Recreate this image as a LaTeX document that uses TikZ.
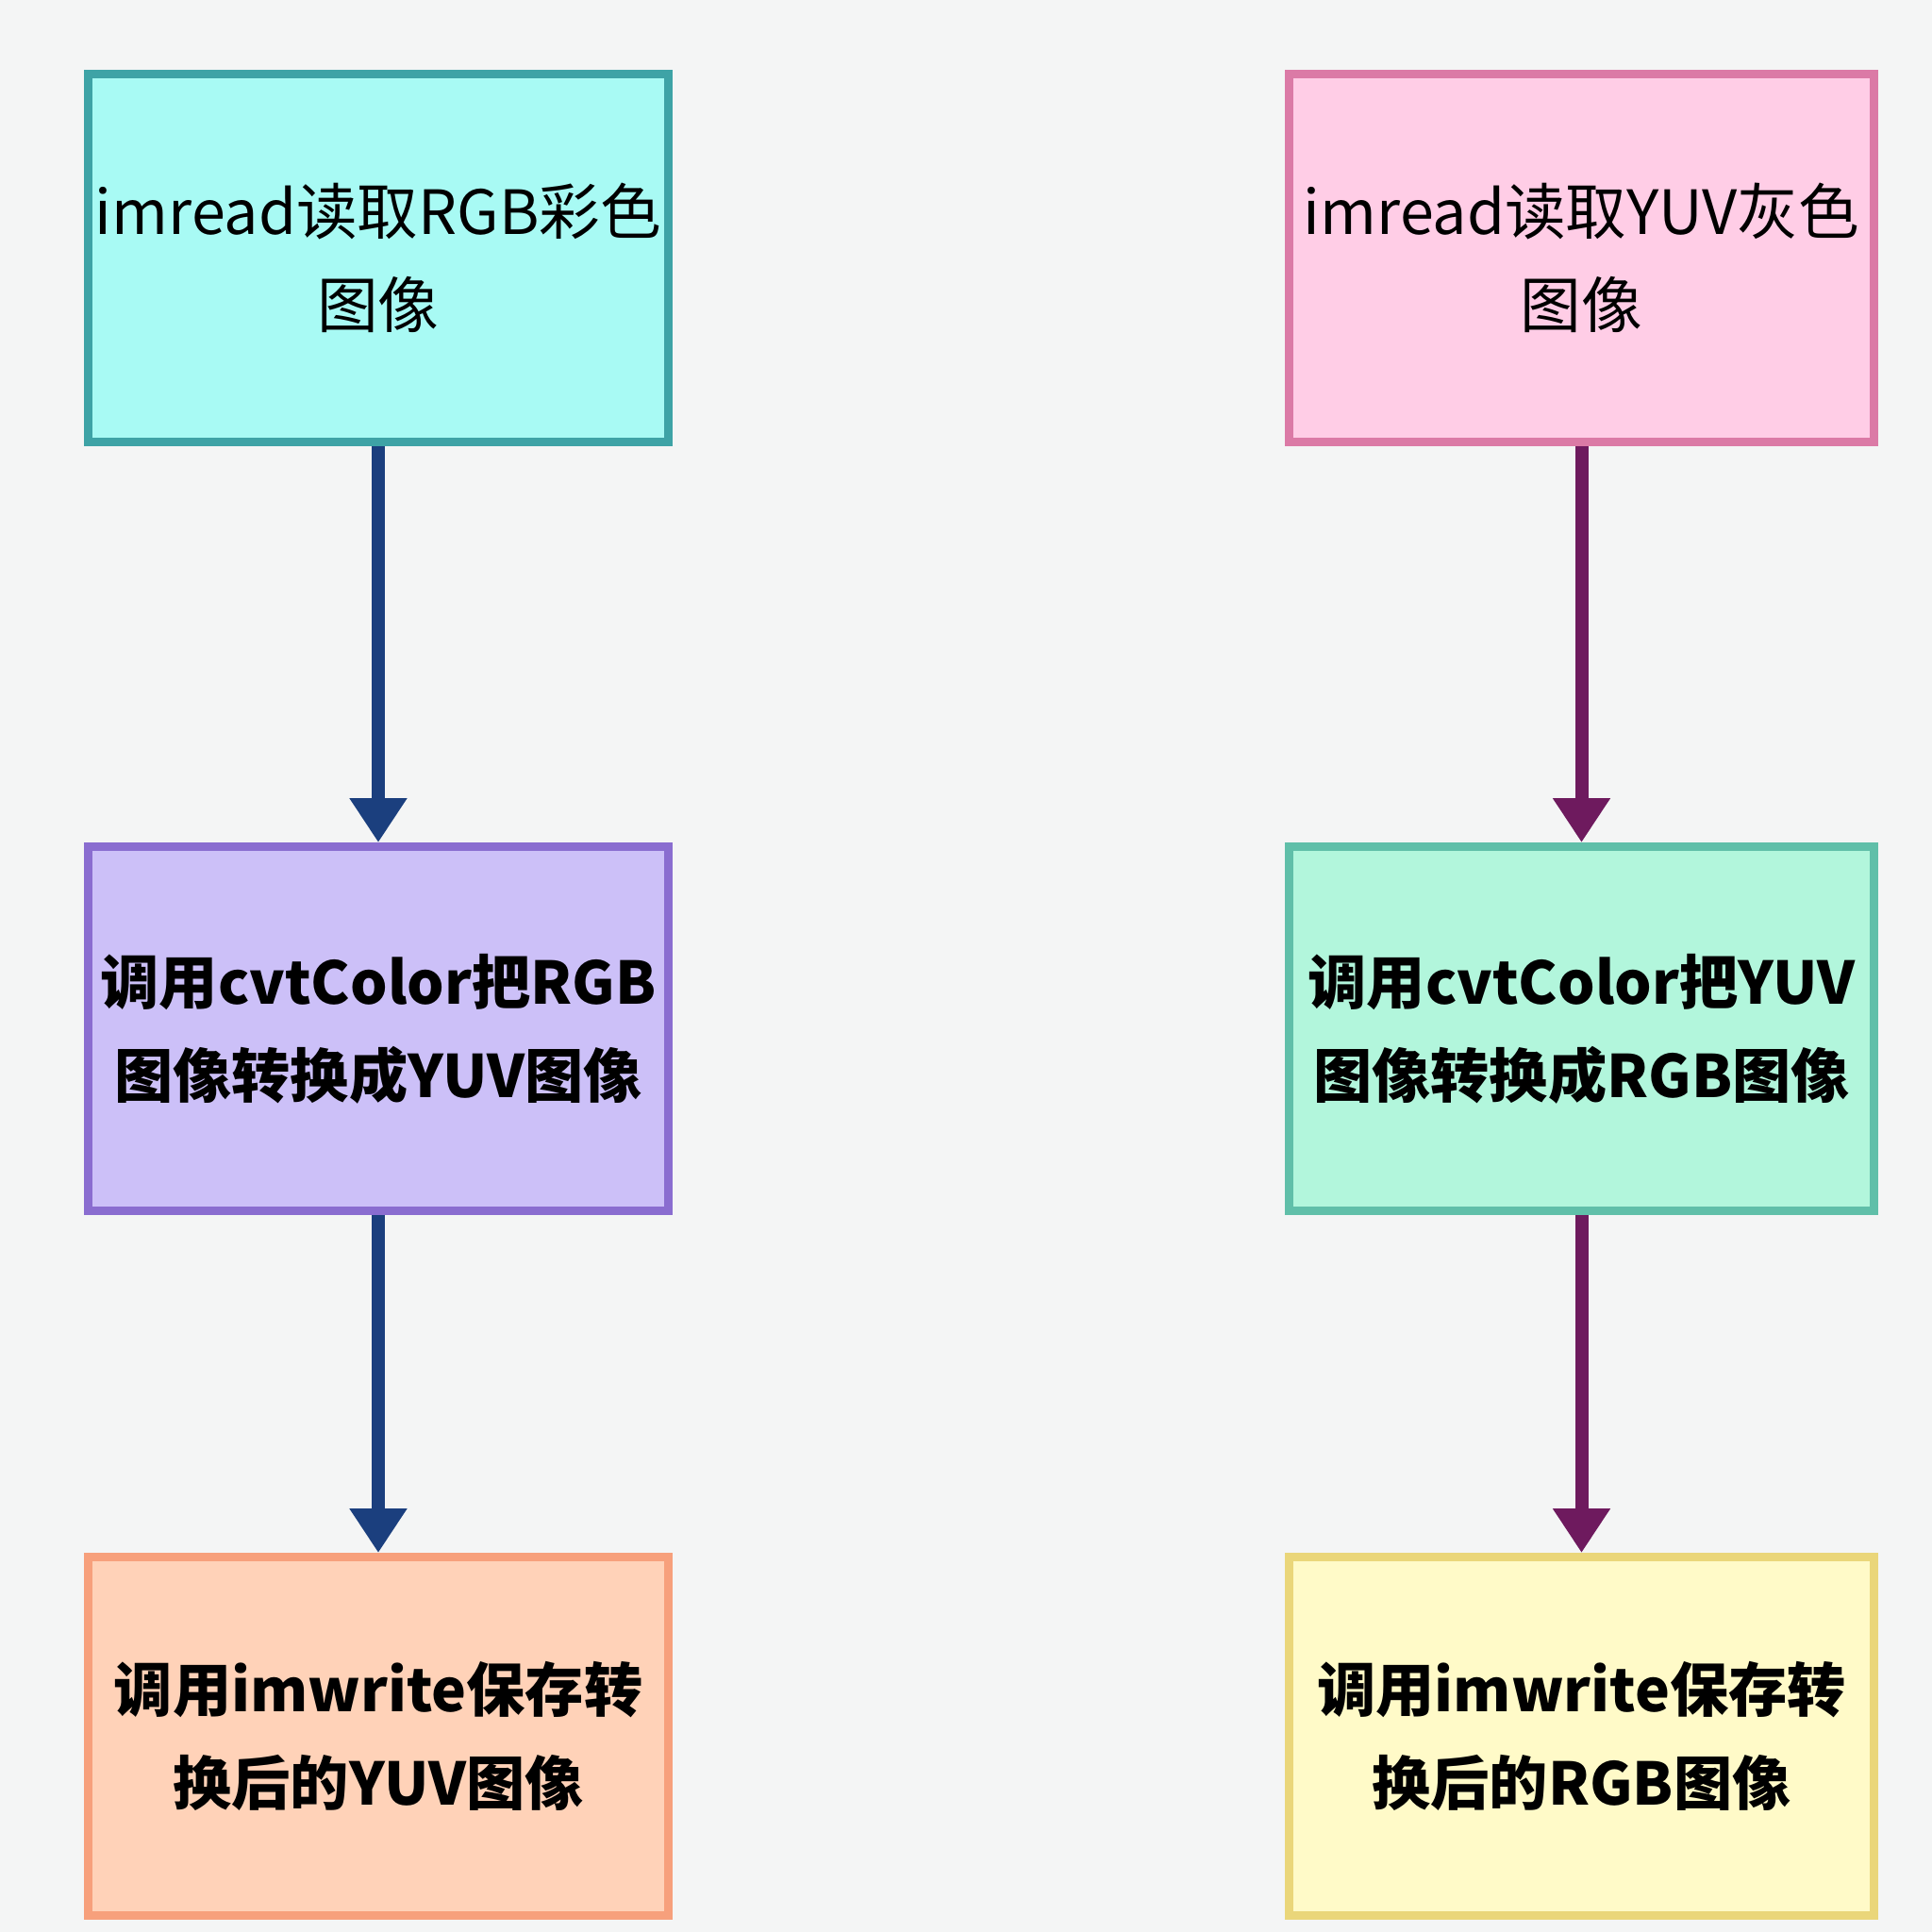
\documentclass[tikz,border=0pt]{standalone}
\usepackage{fontspec}
\setmainfont{Noto Sans CJK SC}
\usetikzlibrary{arrows.meta,positioning}

\definecolor{pagebg}{HTML}{F4F5F5}
\definecolor{cyanfill}{HTML}{A8FAF4}
\definecolor{cyanline}{HTML}{3EA3A6}
\definecolor{lilacfill}{HTML}{CCC0F8}
\definecolor{lilacline}{HTML}{8A6DD0}
\definecolor{peachfill}{HTML}{FFD2B8}
\definecolor{peachline}{HTML}{F7A07C}
\definecolor{pinkfill}{HTML}{FFCDE6}
\definecolor{pinkline}{HTML}{DB7AA6}
\definecolor{mintfill}{HTML}{B2F6DC}
\definecolor{mintline}{HTML}{60BFA9}
\definecolor{lemonfill}{HTML}{FFFAC8}
\definecolor{lemonline}{HTML}{EAD67A}
\definecolor{navyarrow}{HTML}{1B3F7E}
\definecolor{plumarrow}{HTML}{6E1A5E}

\begin{document}
\begin{tikzpicture}[node distance=4.2cm, x=1cm, y=1cm,
    box/.style={draw, line width=0.09cm, minimum width=6.15cm, inner sep=0pt, align=center,
                font=\fontsize{18.4}{28.2}\selectfont},
    heavy/.style={font=\fontsize{17.7}{28.2}\selectfont\bfseries},
    flow/.style={line width=0.14cm, -{Triangle[width=0.58cm,length=0.47cm]}}]
           \fill[pagebg] (0,0) rectangle (20.48,-20.48);
           % left column
           \node[box, fill=cyanfill, draw=cyanline, minimum height=3.9cm] (rgbread) at (4.01,-2.735) {imread读取RGB彩色\\图像};
           \node[box, heavy, fill=lilacfill, draw=lilacline, minimum height=3.86cm] (rgbconv) [below=of rgbread] {调用cvtColor把RGB\\图像转换成YUV图像};
           \node[box, heavy, fill=peachfill, draw=peachline, minimum height=3.8cm] (rgbsave) [below=3.58cm of rgbconv] {调用imwrite保存转\\换后的YUV图像};
           % right column
           \node[box, fill=pinkfill, draw=pinkline, minimum width=6.2cm, minimum height=3.9cm] (yuvread) at (16.765,-2.735) {imread读取YUV灰色\\图像};
           \node[box, heavy, fill=mintfill, draw=mintline, minimum width=6.2cm, minimum height=3.86cm] (yuvconv) [below=of yuvread] {调用cvtColor把YUV\\图像转换成RGB图像};
           \node[box, heavy, fill=lemonfill, draw=lemonline, minimum width=6.2cm, minimum height=3.8cm] (yuvsave) [below=3.58cm of yuvconv] {调用imwrite保存转\\换后的RGB图像};
           \path[flow, color=navyarrow]
            (rgbread) edge (rgbconv)
            (rgbconv) edge (rgbsave)
            ;
           \path[flow, color=plumarrow]
            (yuvread) edge (yuvconv)
            (yuvconv) edge (yuvsave)
            ;
        \end{tikzpicture}
\end{document}
